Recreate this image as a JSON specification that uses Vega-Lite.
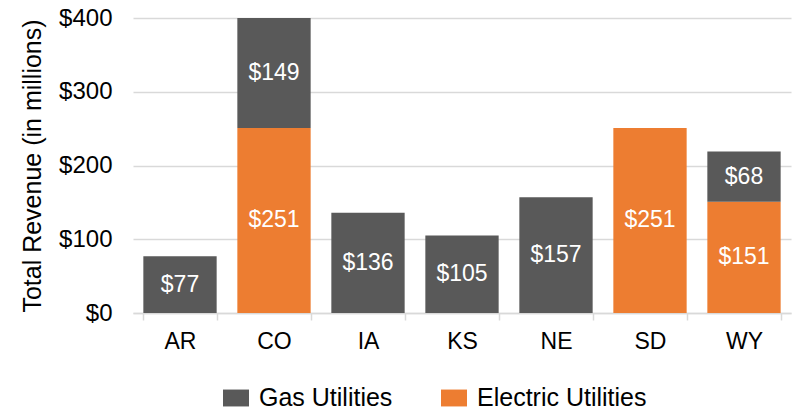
{
  "$schema": "https://vega.github.io/schema/vega-lite/v6.json",
  "autosize": "none",
  "width": 658,
  "height": 295,
  "padding": {"left": 133, "top": 18, "right": 3, "bottom": 97},
  "background": "white",
  "config": {
    "font": "Liberation Sans",
    "view": {"stroke": null}
  },
  "data": {
    "values": [
      {"state": "AR", "type": "Gas Utilities", "order": 2, "value": 77},
      {"state": "CO", "type": "Electric Utilities", "order": 1, "value": 251},
      {"state": "CO", "type": "Gas Utilities", "order": 2, "value": 149},
      {"state": "IA", "type": "Gas Utilities", "order": 2, "value": 136},
      {"state": "KS", "type": "Gas Utilities", "order": 2, "value": 105},
      {"state": "NE", "type": "Gas Utilities", "order": 2, "value": 157},
      {"state": "SD", "type": "Electric Utilities", "order": 1, "value": 251},
      {"state": "WY", "type": "Electric Utilities", "order": 1, "value": 151},
      {"state": "WY", "type": "Gas Utilities", "order": 2, "value": 68}
    ]
  },
  "transform": [
    {"stack": "value", "groupby": ["state"], "sort": [{"field": "order", "order": "ascending"}], "as": ["y0", "y1"]},
    {"calculate": "(datum.y0 + datum.y1) / 2", "as": "ymid"},
    {"calculate": "'$' + datum.value", "as": "label"}
  ],
  "encoding": {
    "x": {
      "field": "state",
      "type": "nominal",
      "sort": ["AR", "CO", "IA", "KS", "NE", "SD", "WY"],
      "scale": {"paddingInner": 0.22, "paddingOuter": 0.11},
      "axis": {
        "title": null,
        "labelAngle": 0,
        "labelFontSize": 23,
        "labelColor": "#000000",
        "labelPadding": 10,
        "tickBand": "extent",
        "tickColor": "#D9D9D9",
        "tickSize": 7,
        "tickWidth": 1.5,
        "domainColor": "#D9D9D9",
        "domainWidth": 1.5,
        "grid": false
      }
    }
  },
  "layer": [
    {
      "mark": {"type": "bar"},
      "encoding": {
        "y": {
          "field": "y0",
          "type": "quantitative",
          "scale": {"domain": [0, 400]},
          "axis": {
            "title": "Total Revenue (in millions)",
            "titleFontSize": 25,
            "titleFontWeight": "normal",
            "titleColor": "#000000",
            "titlePadding": 13,
            "labelFontSize": 24,
            "labelColor": "#000000",
            "labelPadding": 21,
            "labelOverlap": false,
            "values": [0, 100, 200, 300, 400],
            "labelExpr": "'$' + datum.value",
            "domain": false,
            "ticks": false,
            "gridColor": "#D9D9D9",
            "gridWidth": 1.5
          }
        },
        "y2": {"field": "y1"},
        "color": {
          "field": "type",
          "type": "nominal",
          "scale": {"domain": ["Gas Utilities", "Electric Utilities"], "range": ["#595959", "#ED7D31"]},
          "legend": {
            "title": null,
            "orient": "none",
            "direction": "horizontal",
            "legendX": 90,
            "legendY": 367,
            "symbolType": "M-1,-0.65L1,-0.65L1,0.65L-1,0.65Z",
            "symbolSize": 676,
            "symbolStrokeWidth": 0,
            "labelFontSize": 25,
            "labelLimit": 400,
            "labelColor": "#000000",
            "columnPadding": 48,
            "labelOffset": 10
          }
        }
      }
    },
    {
      "mark": {"type": "text", "color": "white", "fontSize": 23, "baseline": "middle"},
      "encoding": {
        "y": {"field": "ymid", "type": "quantitative"},
        "text": {"field": "label"}
      }
    }
  ]
}
